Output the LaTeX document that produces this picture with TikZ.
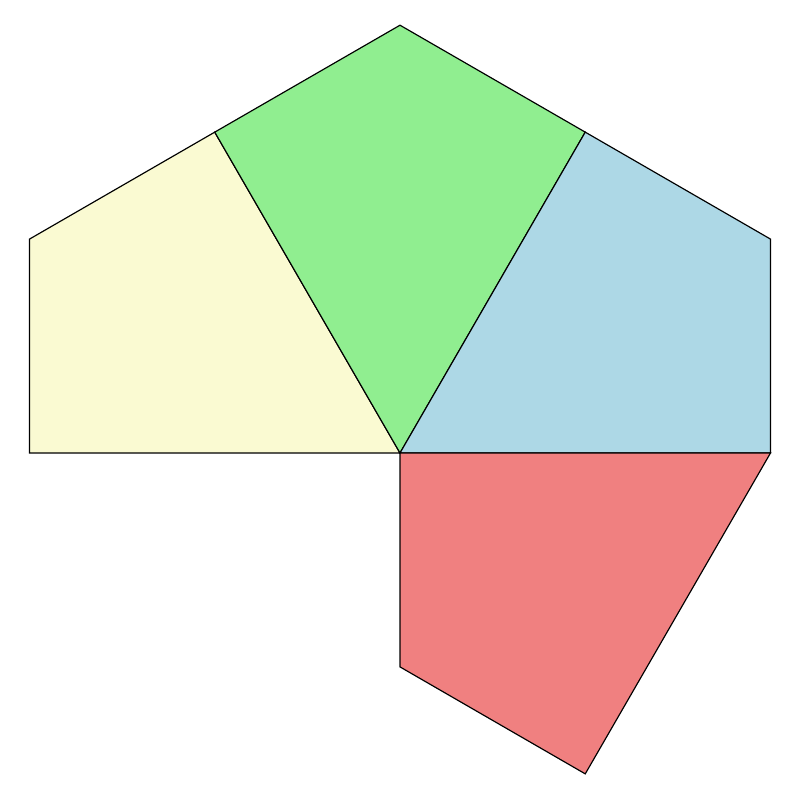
\documentclass[tikz,border=0pt]{standalone}
\usetikzlibrary{calc}
\definecolor{ink}{HTML}{000000}
\definecolor{kiteYellow}{HTML}{FAFAD2}
\definecolor{kiteGreen}{HTML}{90EE90}
\definecolor{kiteBlue}{HTML}{ADD8E6}
\definecolor{kiteRed}{HTML}{F08080}
\tikzset{
    tile/.style={draw=ink, line width=1pt, line join=miter},
}

\begin{document}
\begin{tikzpicture}[x=0.3mm, y=0.3mm]
\useasboundingbox (-400,-347) rectangle (400,453);

% ---------------------------------------------------------------------------
% Corner points round the common centre
% ---------------------------------------------------------------------------
\coordinate (o) at (0,0);
\coordinate (p180) at (180:370.5);
\coordinate (p150) at (150:427.8);
\coordinate (p120) at (120:370.5);
\coordinate (p90)  at (90:427.8);
\coordinate (p60)  at (60:370.5);
\coordinate (p30)  at (30:427.8);
\coordinate (p0)   at (0:370.5);
\coordinate (m60)  at (-60:370.5);
\coordinate (m90)  at (-90:213.9);

% ---------------------------------------------------------------------------
% Tiles
% ---------------------------------------------------------------------------
\filldraw[tile, fill=kiteYellow] (o) -- (p180) -- (p150) -- (p120) -- cycle;
\filldraw[tile, fill=kiteGreen]  (o) -- (p120) -- (p90) -- (p60) -- cycle;
\filldraw[tile, fill=kiteBlue]   (o) -- (p60) -- (p30) -- (p0) -- cycle;
\filldraw[tile, fill=kiteRed]    (o) -- (p0) -- (m60) -- (m90) -- cycle;

\end{tikzpicture}
\end{document}
